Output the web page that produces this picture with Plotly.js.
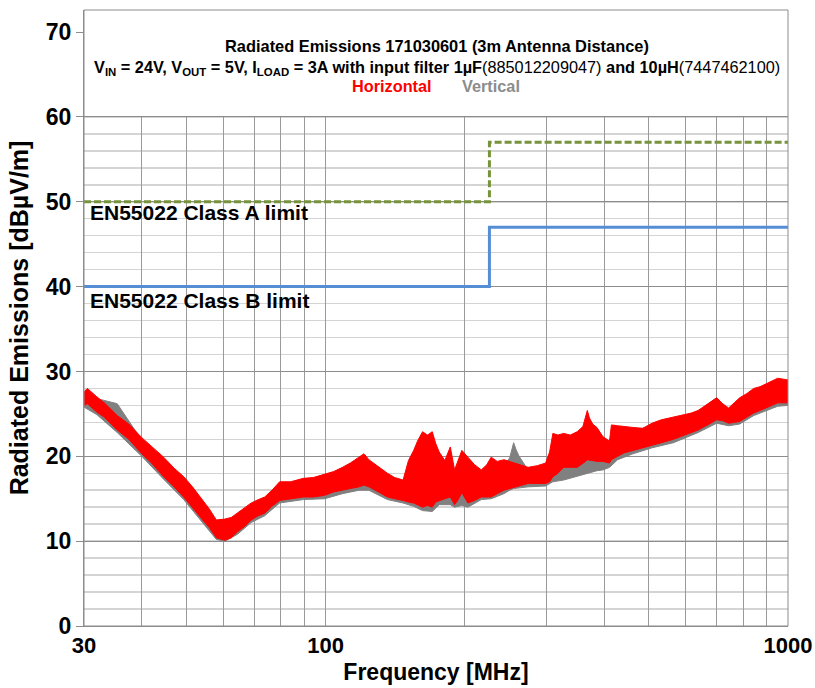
<!DOCTYPE html>
<html>
<head>
<meta charset="utf-8">
<script src="https://cdn.plot.ly/plotly-3.0.1.min.js"></script>
<style>html,body{margin:0;padding:0;background:#fff;}#chart{width:815px;height:688px;}</style>
</head>
<body>
<div id="chart"></div>
<script>
// Horizontal polarisation (red) band: frequency [MHz], lower and upper edge [dBµV/m]
const hFreq = [30,30.5,32,33.2,35.4,37.5,40,42,44.6,47,49.3,51.5,53.6,56,58,60.5,62.5,64.4,67,69,71.5,73.8,76.5,79.5,84,89.4,94,99.5,104,108.7,113,118,121,124,130,136,141,147,151,155,158,162,166,170,173,176,181,186,190,193,197,203,210,217,223,228,235,243,250,258,266,274,287,299,305,310,318,327,338,350,360,365,368,372,378,386,398,411,415,428,442,462,485,508,532,565,598,618,639,670,701,722,744,765,786,815,843,870,900,950,1000];
const hLow  = [26.0,26.2,25.2,24.6,23.1,22.0,20.3,19.2,17.6,16.4,15.2,14.0,12.8,11.6,10.4,10.1,10.4,11.1,11.8,12.5,13.0,13.3,14.1,14.8,15.0,15.2,15.2,15.4,15.8,16.0,16.2,16.4,16.6,16.4,15.8,15.2,15.0,14.8,14.6,14.5,14.3,14.0,14.2,14.0,14.6,14.8,15.0,15.2,14.3,14.8,15.7,14.5,14.8,15.2,15.2,15.2,15.6,16.0,16.2,16.4,16.6,16.8,16.8,16.8,17.0,17.6,18.0,18.7,18.7,18.7,19.2,19.4,19.6,19.6,19.5,19.4,19.4,19.2,19.6,20.0,20.4,20.7,21.0,21.3,21.6,22.0,22.5,22.8,23.1,23.7,24.3,24.2,23.9,24.0,24.1,24.6,25.1,25.4,25.7,26.3,26.3];
const hHigh = [27.6,28.0,27.0,26.3,24.8,23.8,22.2,21.2,19.9,18.6,17.6,16.4,15.2,13.8,12.5,12.6,12.8,13.3,14.0,14.5,14.9,15.2,16.0,17.0,17.0,17.4,17.5,17.9,18.2,18.7,19.2,19.9,20.3,19.6,18.8,18.0,17.5,17.2,19.5,20.7,21.8,22.9,22.5,22.9,21.5,20.5,19.5,21.1,18.4,19.5,20.7,19.9,19.0,18.4,19.0,19.9,19.4,19.6,19.4,19.2,19.0,18.7,18.9,19.2,20.5,22.7,22.5,22.7,22.5,22.9,23.5,24.6,25.4,24.5,23.8,23.4,22.3,21.8,23.7,23.6,23.5,23.4,23.3,23.9,24.3,24.6,24.9,25.1,25.4,26.2,26.9,26.2,25.7,26.3,26.9,27.4,28.0,28.2,28.6,29.2,29.0];

// Vertical polarisation (grey) band
const vFreq = [30,32,35.4,40,44.6,49.3,53.6,58,60.5,64.4,69,73.8,79.5,89.4,99.5,108.7,118,124,136,147,155,162,170,176,186,190,197,203,217,228,243,250,255,258,262,274,299,310,327,350,368,386,398,411,428,462,508,565,639,701,744,786,843,900,950,1000];
const vLow  = [25.8,24.9,22.8,20.0,17.3,14.9,12.5,10.2,10.0,10.8,12.2,13.0,14.5,14.9,15.0,15.6,16.0,16.0,14.9,14.5,14.1,13.6,13.5,14.3,14.3,14.0,14.2,14.0,14.9,15.0,15.6,16.0,16.2,16.2,16.3,16.4,16.5,17.0,17.2,17.7,18.0,18.3,18.4,18.7,19.6,20.3,21.0,21.6,22.8,23.9,23.6,23.8,24.8,25.4,25.9,26.0];
const vHigh = [27.4,26.8,26.2,21.9,19.6,17.2,14.9,12.2,12.3,13.0,14.2,15.0,16.6,17.0,17.4,18.0,18.8,18.9,17.6,16.9,19.5,21.0,21.5,20.0,19.0,18.0,19.0,19.0,18.0,18.5,19.0,19.8,21.6,20.8,20.0,18.4,18.7,18.4,19.3,19.6,20.4,20.0,20.3,21.0,22.4,23.0,23.6,24.4,25.3,26.9,25.5,26.7,27.8,28.4,29.0,28.8];

// Limit lines (step frequency and levels)
const limitFreq = [30,226,226,1000];
const classB = [40,40,47,47];
const classA = [50,50,57,57];

const xTickVals = [30,40,50,60,70,80,90,100,200,300,400,500,600,700,800,900,1000];
const xTickText = ['30','','','','','','','100','','','','','','','','','1000'];
const yTickVals = [0,10,20,30,40,50,60,70];

function band(freq, low, high, color, name){
  const x = freq.concat(freq.slice().reverse());
  const y = high.concat(low.slice().reverse());
  return {x:x, y:y, type:'scatter', mode:'lines', fill:'toself', fillcolor:color,
          line:{color:color, width:1}, name:name, hoverinfo:'skip'};
}

const traces = [
  band(vFreq, vLow, vHigh, '#808080', 'Vertical'),
  band(hFreq, hLow, hHigh, '#ff0000', 'Horizontal'),
  {x:limitFreq, y:classA, type:'scatter', mode:'lines', line:{color:'#77933c', width:3, dash:'7px,3px'}, name:'Class A'},
  {x:limitFreq, y:classB, type:'scatter', mode:'lines', line:{color:'#558ed5', width:3}, name:'Class B'}
];

const F = 'Liberation Sans, Arial, Helvetica, sans-serif';
const FN = 'Liberation Sans Narrow, Arial Narrow, Liberation Sans, sans-serif';

const layout = {
  width:815, height:688,
  margin:{l:84, r:27, t:10, b:62},
  paper_bgcolor:'#fff', plot_bgcolor:'#fff',
  showlegend:false,
  font:{family:F, color:'#000'},
  xaxis:{type:'log', range:[Math.log10(30), 3], tickvals:xTickVals, ticktext:xTickText,
         showgrid:true, gridcolor:'#9a9a9a', gridwidth:1, zeroline:false,
         showline:true, linecolor:'#8c8c8c', ticks:'',
         tickfont:{family:FN, size:22, weight:'bold'},
         title:{text:'Frequency [MHz]', font:{family:FN, size:23, weight:'bold'}, standoff:6}},
  yaxis:{range:[0, 72.6], tickvals:yTickVals, showgrid:true, gridcolor:'#8c8c8c', gridwidth:1,
         zeroline:false, showline:true, linecolor:'#8c8c8c', ticks:'outside', ticklen:7, tickcolor:'#8c8c8c',
         tickfont:{family:F, size:23, weight:'bold'},
         minor:{dtick:2, showgrid:true, gridcolor:'#d4d4d4', gridwidth:1.5, ticks:''},
         title:{text:'Radiated Emissions [dBµV/m]', font:{family:F, size:25, weight:'bold'}, standoff:10}},
  shapes:[
    {type:'rect', xref:'paper', yref:'y', x0:0, x1:1, y0:60.12, y1:72.6, fillcolor:'#fff', line:{width:0}, layer:'above'},
    {type:'rect', xref:'paper', yref:'paper', x0:0, x1:1, y0:0, y1:1, line:{color:'#8c8c8c', width:1}, layer:'above'}
  ],
  annotations:[
    {xref:'paper', yref:'y', x:0.502, y:68.35, showarrow:false, text:'<b>Radiated Emissions 171030601 (3m Antenna Distance)</b>', font:{family:F, size:16.4}},
    {xref:'paper', yref:'y', x:0.502, y:65.8, showarrow:false,
     text:'<b>V<sub>IN</sub> = 24V, V<sub>OUT</sub> = 5V, I<sub>LOAD</sub> = 3A with input filter 1µF</b>(885012209047)<b> and 10µH</b>(7447462100)', font:{family:F, size:16.3}},
    {xref:'paper', yref:'y', x:0.4375, y:63.6, showarrow:false, text:'<b>Horizontal</b>', font:{family:F, size:16.3, color:'#ff0000'}},
    {xref:'paper', yref:'y', x:0.578, y:63.6, showarrow:false, text:'<b>Vertical</b>', font:{family:F, size:16.3, color:'#8c8c8c'}},
    {xref:'paper', yref:'y', x:0.005, y:48.7, xanchor:'left', showarrow:false, text:'<b>EN55022 Class A limit</b>', font:{family:F, size:21}},
    {xref:'paper', yref:'y', x:0.005, y:38.4, xanchor:'left', showarrow:false, text:'<b>EN55022 Class B limit</b>', font:{family:F, size:21}}
  ]
};

Plotly.newPlot('chart', traces, layout, {staticPlot:true, displayModeBar:false});
</script>
</body>
</html>
